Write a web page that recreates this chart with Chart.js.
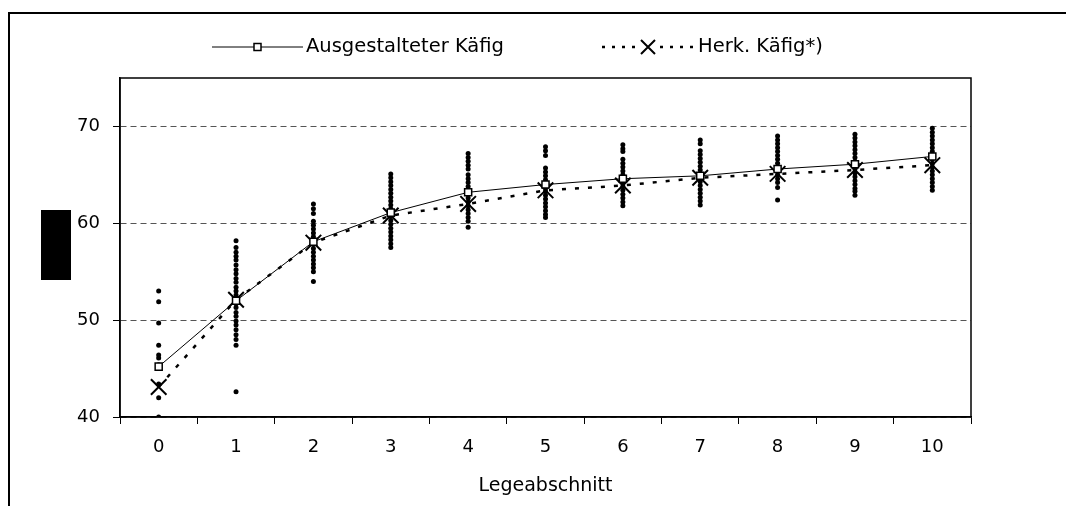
<!DOCTYPE html>
<html>
<head>
<meta charset="utf-8">
<script src="https://cdn.jsdelivr.net/npm/chart.js@4.4.0/dist/chart.umd.min.js"></script>
<style>
  html, body { margin: 0; padding: 0; background: #fff; }
  canvas { display: block; }
</style>
</head>
<body>
<canvas id="myChart" width="1066" height="506"></canvas>
<script>
const labels = ['0', '1', '2', '3', '4', '5', '6', '7', '8', '9', '10'];

const ausgestaltet = [45.2, 52.0, 58.1, 61.1, 63.2, 64.0, 64.6, 64.9, 65.6, 66.1, 66.9];
const herkoemmlich = [43.1, 52.1, 58.0, 60.8, 62.0, 63.4, 63.9, 64.7, 65.1, 65.5, 66.0];

// single values per Legeabschnitt (the black dot columns)
const werte0 = [53.0, 51.9, 49.7, 47.4, 46.4, 46.1, 45.4, 43.4, 42.0, 40.0];
const werte1 = [58.2, 57.5, 57.0, 56.6, 56.2, 55.7, 55.2, 54.8, 54.3, 53.9, 53.4, 53.0, 52.6, 52.2, 51.7, 51.3, 50.8, 50.4, 49.9, 49.5, 49.0, 48.5, 48.0, 47.4, 42.6];
const werte2 = [62.0, 61.5, 61.0, 60.2, 59.8, 59.4, 59.0, 58.6, 58.2, 57.8, 57.4, 57.0, 56.6, 56.2, 55.8, 55.4, 55.0, 54.0];
const werte3 = [65.1, 64.7, 64.3, 63.9, 63.5, 63.1, 62.7, 62.3, 61.9, 61.5, 61.1, 60.7, 60.3, 59.9, 59.5, 59.1, 58.7, 58.3, 57.9, 57.5];
const werte4 = [67.2, 66.8, 66.4, 66.0, 65.6, 65.0, 64.6, 64.2, 63.8, 63.4, 63.0, 62.6, 62.2, 61.8, 61.4, 61.0, 60.6, 60.2, 59.6];
const werte5 = [67.9, 67.5, 67.0, 65.7, 65.3, 64.9, 64.5, 64.1, 63.7, 63.3, 62.9, 62.5, 62.1, 61.7, 61.3, 60.9, 60.6];
const werte6 = [68.1, 67.7, 67.4, 66.6, 66.2, 65.8, 65.4, 65.0, 64.6, 64.2, 63.8, 63.4, 63.0, 62.6, 62.2, 61.8];
const werte7 = [68.6, 68.2, 67.5, 67.1, 66.7, 66.3, 65.9, 65.5, 65.1, 64.7, 64.3, 63.9, 63.5, 63.1, 62.7, 62.3, 61.9];
const werte8 = [69.0, 68.6, 68.2, 67.8, 67.4, 67.0, 66.6, 66.2, 65.8, 65.4, 65.0, 64.6, 64.2, 63.7, 62.4];
const werte9 = [69.2, 68.8, 68.4, 68.0, 67.6, 67.2, 66.8, 66.4, 66.0, 65.6, 65.2, 64.8, 64.4, 64.0, 63.6, 63.3, 62.9];
const werte10 = [69.8, 69.4, 69.0, 68.6, 68.2, 67.8, 67.4, 67.0, 66.6, 66.2, 65.8, 65.4, 65.0, 64.6, 64.2, 63.8, 63.4];

const yTicks = [40, 50, 60, 70];

const einzelwerte = [werte0, werte1, werte2, werte3, werte4, werte5, werte6, werte7, werte8, werte9, werte10];
const punkte = [];
einzelwerte.forEach((arr, i) => arr.forEach(v => punkte.push({ x: labels[i], y: v })));

const FONT = '"DejaVu Sans", Arial, sans-serif';
const DOT_DASH = [4, 9];

// frame, black box, plot border and the legend
const extras = {
  id: 'extras',
  afterDraw(chart) {
    const ctx = chart.ctx;
    const a = chart.chartArea;
    ctx.save();
    ctx.strokeStyle = '#000';
    ctx.lineWidth = 2;
    ctx.beginPath();
    ctx.moveTo(9, 506); ctx.lineTo(9, 13); ctx.lineTo(1066, 13);
    ctx.stroke();

    ctx.fillStyle = '#000';
    ctx.fillRect(41, 210, 30, 70);

    ctx.lineWidth = 1.5;
    ctx.strokeRect(a.left, a.top, a.right - a.left, a.bottom - a.top);

    // legend
    const ly = 47;
    ctx.lineWidth = 1;
    ctx.beginPath(); ctx.moveTo(212, ly); ctx.lineTo(303, ly); ctx.stroke();
    ctx.fillStyle = '#fff';
    ctx.lineWidth = 1.5;
    ctx.fillRect(254, ly - 3.5, 7, 7);
    ctx.strokeRect(254, ly - 3.5, 7, 7);

    ctx.lineWidth = 2.5;
    ctx.setLineDash([3, 7]);
    ctx.beginPath(); ctx.moveTo(602, ly); ctx.lineTo(636, ly); ctx.stroke();
    ctx.beginPath(); ctx.moveTo(660, ly); ctx.lineTo(696, ly); ctx.stroke();
    ctx.setLineDash([]);
    ctx.lineWidth = 2;
    ctx.beginPath();
    ctx.moveTo(641, ly - 7); ctx.lineTo(655, ly + 7);
    ctx.moveTo(655, ly - 7); ctx.lineTo(641, ly + 7);
    ctx.stroke();

    ctx.fillStyle = '#000';
    ctx.font = '19.5px ' + FONT;
    ctx.textBaseline = 'middle';
    ctx.fillText('Ausgestalteter Käfig', 306, ly);
    ctx.fillText('Herk. Käfig*)', 698, ly);
    ctx.restore();
  }
};

const data = {
  labels: labels,
  datasets: [{
    label: 'Ausgestalteter Käfig',
    data: ausgestaltet,
    borderColor: '#000',
    borderWidth: 1,
    pointStyle: 'rect',
    pointRadius: 5,
    pointBackgroundColor: '#fff',
    pointBorderColor: '#000',
    pointBorderWidth: 1.5,
    tension: 0
  }, {
    label: 'Herk. Käfig*)',
    data: herkoemmlich,
    borderColor: '#000',
    borderWidth: 2.5,
    borderDash: DOT_DASH,
    pointStyle: 'crossRot',
    pointRadius: 11,
    pointBorderColor: '#000',
    pointBorderWidth: 2,
    tension: 0
  }, {
    label: 'Einzelwerte',
    data: punkte,
    showLine: false,
    pointStyle: 'circle',
    pointRadius: 2.5,
    pointBackgroundColor: '#000',
    pointBorderWidth: 0
  }]
};

const config = {
  type: 'line',
  data,
  options: {
    responsive: false,
    animation: false,
    layout: { padding: { left: 0, right: 95, top: 78, bottom: 0 } },
    plugins: {
      legend: { display: false },
      tooltip: { enabled: false }
    },
    scales: {
      x: {
        type: 'category',
        offset: true,
        grid: { offset: true, drawOnChartArea: false, tickLength: 7, tickColor: '#000', tickWidth: 1 },
        border: { color: '#000', width: 1.5 },
        ticks: { color: '#000', padding: 13, font: { family: FONT, size: 18 } },
        title: { display: true, text: 'Legeabschnitt', color: '#000', font: { family: FONT, size: 19 }, padding: { top: 0, bottom: 9 } },
        afterFit(scale) { scale.height = 89; }
      },
      y: {
        min: 40,
        max: 75,
        afterBuildTicks(scale) { scale.ticks = yTicks.map(v => ({ value: v })); },
        grid: { color: '#555', lineWidth: 1, tickLength: 7, tickColor: '#000', tickBorderDash: [] },
        border: { color: '#000', width: 1.5, dash: [6, 4] },
        ticks: { color: '#000', padding: 13, font: { family: FONT, size: 18 } },
        afterFit(scale) { scale.width = 120; }
      }
    }
  },
  plugins: [extras]
};

new Chart(document.getElementById('myChart'), config);
</script>
</body>
</html>
